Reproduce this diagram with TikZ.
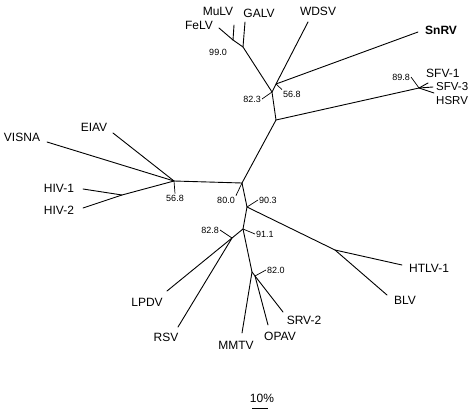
\documentclass[tikz,border=0pt]{standalone}
\usepackage{fontspec}
\setmainfont{Liberation Sans}
\usetikzlibrary{calc}

\begin{document}
\begin{tikzpicture}[x=1pt,y=-1pt,
    branch/.style={line width=0.9pt,line cap=round},
    leader/.style={line width=0.7pt},
    taxon/.style={inner sep=1pt,font=\fontsize{12}{12}\selectfont},
    boot/.style={inner sep=1pt,font=\fontsize{9}{9}\selectfont}]
            \useasboundingbox (0,0) rectangle (470,412);
            % inner nodes of the tree
            \coordinate (R) at (242,183);
            \coordinate (A) at (276,120);
            \coordinate (B) at (272,92);
            \coordinate (C) at (276,84);
            \coordinate (D) at (243,47);
            \coordinate (E) at (233,40);
            \coordinate (S) at (419,88);
            \coordinate (L) at (174,181);
            \coordinate (H) at (122,195);
            \coordinate (P) at (247,207);
            \coordinate (T) at (335,250);
            \coordinate (Q) at (243,229);
            \coordinate (M) at (232,238);
            \coordinate (K) at (252,272);
            \coordinate (K2) at (255,276);
            % tips
            \coordinate (tFeLV) at (219,28);
            \coordinate (tMuLV) at (234,25);
            \coordinate (tGALV) at (245,22);
            \coordinate (tWDSV) at (308,22);
            \coordinate (tSnRV) at (418,32);
            \coordinate (tSFVa) at (428,83);
            \coordinate (tSFVc) at (433,87);
            \coordinate (tHSRV) at (434,93);
            \coordinate (tVISNA) at (47,142);
            \coordinate (tEIAV) at (113,133);
            \coordinate (tHIVa) at (83,189);
            \coordinate (tHIVb) at (83,208);
            \coordinate (tHTLV) at (402,265);
            \coordinate (tBLV) at (387,295);
            \coordinate (tLPDV) at (167,291);
            \coordinate (tRSV) at (178,327);
            \coordinate (tMMTV) at (242,333);
            \coordinate (tOPAV) at (268,325);
            \coordinate (tSRV) at (283,312);
            % branches
            \draw[branch] (L) -- (R) -- (A) -- (B) -- (D) -- (E);
            \draw[branch] (E) -- (tFeLV);
            \draw[branch] (E) -- (tMuLV);
            \draw[branch] (D) -- (tGALV);
            \draw[branch] (B) -- (C) -- (tWDSV);
            \draw[branch] (C) -- (tSnRV);
            \draw[branch] (A) -- (S) -- (tSFVa);
            \draw[branch] (S) -- (tSFVc);
            \draw[branch] (S) -- (tHSRV);
            \draw[branch] (L) -- (tVISNA);
            \draw[branch] (L) -- (tEIAV);
            \draw[branch] (L) -- (H) -- (tHIVa);
            \draw[branch] (H) -- (tHIVb);
            \draw[branch] (R) -- (P) -- (T) -- (tHTLV);
            \draw[branch] (T) -- (tBLV);
            \draw[branch] (P) -- (Q) -- (M) -- (tLPDV);
            \draw[branch] (M) -- (tRSV);
            \draw[branch] (Q) -- (K) -- (tMMTV);
            \draw[branch] (K) -- (K2) -- (tOPAV);
            \draw[branch] (K2) -- (tSRV);
            % taxon names
            \node[taxon,anchor=east] (FeLV) at (214,25) {FeLV};
            \node[taxon] (MuLV) at (218,11) {MuLV};
            \node[taxon] (GALV) at (259,13) {GALV};
            \node[taxon] (WDSV) at (318,11) {WDSV};
            \node[taxon,anchor=west,font=\fontsize{12}{12}\selectfont\bfseries] (SnRV) at (424,30) {SnRV};
            \node[taxon,anchor=west] (SFVa) at (425,73) {SFV-1};
            \node[taxon,anchor=west,font=\fontsize{11.5}{12}\selectfont] (SFVc) at (435,87) {SFV-3};
            \node[taxon,anchor=west,font=\fontsize{11.5}{12}\selectfont] (HSRV) at (435,101) {HSRV};
            \node[taxon] (VISNA) at (22,137) {VISNA};
            \node[taxon] (EIAV) at (94,127) {EIAV};
            \node[taxon] (HIVa) at (59,188) {HIV-1};
            \node[taxon] (HIVb) at (59,210) {HIV-2};
            \node[taxon,anchor=west] (HTLV) at (408,268) {HTLV-1};
            \node[taxon] (BLV) at (405,300) {BLV};
            \node[taxon] (LPDV) at (147,302) {LPDV};
            \node[taxon] (RSV) at (166,337) {RSV};
            \node[taxon] (MMTV) at (236,345) {MMTV};
            \node[taxon] (OPAV) at (280,336) {OPAV};
            \node[taxon] (SRV) at (304,320) {SRV-2};
            % bootstrap values
            \node[boot] (b990) at (218,52) {99.0};
            \node[boot,anchor=east] (b823) at (262,99) {82.3};
            \node[boot,anchor=west] (b568a) at (282,94) {56.8};
            \node[boot,anchor=east] (b898) at (411,77) {89.8};
            \node[boot] (b568b) at (175,198) {56.8};
            \node[boot] (b800) at (226,200) {80.0};
            \node[boot,anchor=west] (b903) at (258,200) {90.3};
            \node[boot,anchor=west] (b911) at (255,234) {91.1};
            \node[boot,anchor=east] (b828) at (220,230) {82.8};
            \node[boot,anchor=west] (b820) at (266,270) {82.0};
            \draw[leader] (b823.east) -- (B);
            \draw[leader] (b568a.north west) -- (C);
            \draw[leader] (b898.east) -- (S);
            \draw[leader] (b568b.north) -- (L);
            \draw[leader] (b800.north east) -- (R);
            \draw[leader] (b903.west) -- (P);
            \draw[leader] (b911.west) -- (Q);
            \draw[leader] (b828.east) -- (M);
            \draw[leader] (b820.west) -- (K2);
            % scale bar
            \node[taxon] (bar) at (262,398) {10\%};
            \draw[leader] (252,408) -- (268,408);
\end{tikzpicture}
\end{document}
